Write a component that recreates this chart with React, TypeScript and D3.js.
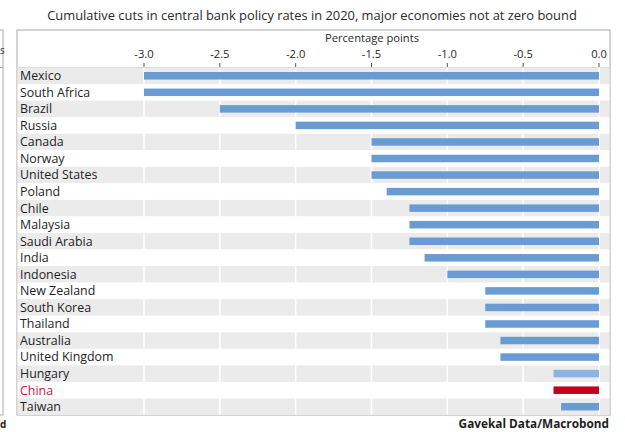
import React from "react";
import * as d3 from "d3";

const countries = [
  "Mexico", "South Africa", "Brazil", "Russia", "Canada", "Norway", "United States",
  "Poland", "Chile", "Malaysia", "Saudi Arabia", "India", "Indonesia", "New Zealand",
  "South Korea", "Thailand", "Australia", "United Kingdom", "Hungary", "China", "Taiwan",
];
const cuts = [
  -3.0, -3.0, -2.5, -2.0, -1.5, -1.5, -1.5,
  -1.4, -1.25, -1.25, -1.25, -1.15, -1.0, -0.75,
  -0.75, -0.75, -0.65, -0.65, -0.3, -0.3, -0.25,
];
const tickValues = [-3.0, -2.5, -2.0, -1.5, -1.0, -0.5, 0.0];
const title = "Cumulative cuts in central bank policy rates in 2020, major economies not at zero bound";
const axisTitle = "Percentage points";
const source = "Gavekal Data/Macrobond";

const W = 625, H = 432;
const frameL = 17, frameR = 610, frameT = 30, rowsT = 67.5, rowsB = 415;
const font = "'Open Sans', 'Noto Sans', sans-serif";

export default function App() {
  const x = d3.scaleLinear().domain([-3, 0]).range([144, 599]);
  const y = d3.scaleBand<string>().domain(countries).range([rowsT, rowsB]).paddingInner(0);
  const bh = 7.5;
  const barColor = (c: string) => (c === "China" ? "#c4001a" : c === "Hungary" ? "#8cb4e3" : "#6a9bd3");

  return (
    <svg width={W} height={H} style={{ position: "absolute", left: 0, top: 0, background: "#fff" }}>
      {/* partial neighbouring chart on the left edge */}
      <rect x={-40} y={30} width={43} height={385} fill="none" stroke="#aaa" strokeWidth={1} />
      <line x1={-40} x2={3} y1={67.5} y2={67.5} stroke="#aaa" />
      <text x={0} y={54} fontFamily={font} fontSize={10} fill="#333">s</text>
      <text x={0} y={428} fontFamily={font} fontSize={10} fontWeight={700} fill="#222">d</text>

      <text x={312} y={20} textAnchor="middle" fontFamily={font} fontSize={12.9} fill="#2a2a2a">{title}</text>

      {/* frame */}
      <rect x={frameL} y={frameT} width={frameR - frameL} height={rowsB - frameT} fill="#fff" stroke="#a8a8a8" strokeWidth={1} />
      <line x1={frameL} x2={frameR} y1={rowsT} y2={rowsT} stroke="#cfcfcf" />

      {/* row bands */}
      {countries.map((c, i) => (
        <rect key={"band" + c} x={frameL + 0.5} y={y(c)!} width={frameR - frameL - 1} height={y.bandwidth()}
          fill={i % 2 === 0 ? "#ebebeb" : "#ffffff"} />
      ))}
      {/* white gridlines */}
      {tickValues.map((t) => (
        <line key={"g" + t} x1={x(t)} x2={x(t)} y1={rowsT} y2={rowsB} stroke="#ffffff" strokeWidth={1.5} />
      ))}

      {/* axis */}
      <text x={372} y={42} textAnchor="middle" fontFamily={font} fontSize={11.2} fill="#2a2a2a">{axisTitle}</text>
      {tickValues.map((t) => (
        <g key={"t" + t}>
          <text x={x(t)} y={58} textAnchor="middle" fontFamily={font} fontSize={11.2} fill="#2a2a2a">
            {d3.format(".1f")(t).replace("−", "-")}
          </text>
          <line x1={x(t)} x2={x(t)} y1={63} y2={67} stroke="#555" strokeWidth={1} />
        </g>
      ))}

      {/* bars */}
      {countries.map((c, i) => (
        <rect key={"bar" + c} x={x(cuts[i])} y={y(c)! + (y.bandwidth() - bh) / 2}
          width={x(0) - x(cuts[i])} height={bh} fill={barColor(c)} />
      ))}

      {/* labels */}
      {countries.map((c) => (
        <text key={"lab" + c} x={20} y={y(c)! + y.bandwidth() / 2 + 4.4} fontFamily={font} fontSize={12.4}
          fill={c === "China" ? "#d4143c" : "#1e1e1e"}>{c}</text>
      ))}

      <text x={609} y={428} textAnchor="end" fontFamily={font} fontSize={11.8} fontWeight={700} fill="#1e1e1e">{source}</text>
    </svg>
  );
}
